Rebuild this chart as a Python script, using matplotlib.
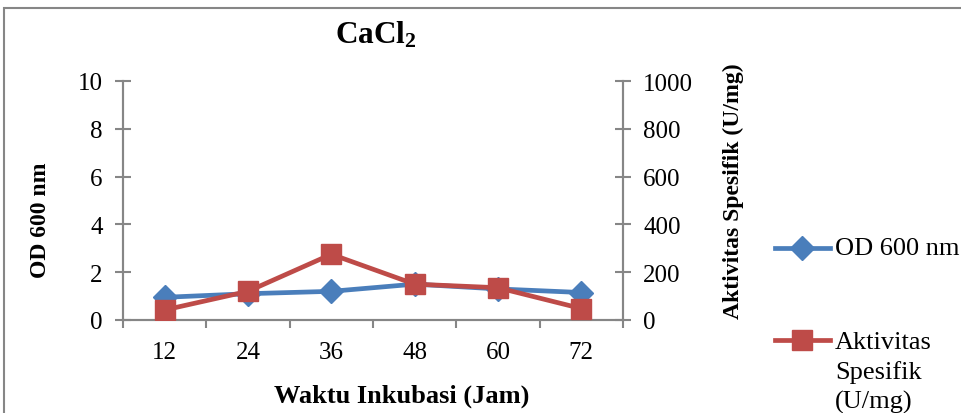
import matplotlib
matplotlib.use("Agg")
import matplotlib.pyplot as plt
from matplotlib.patches import Rectangle
from matplotlib.lines import Line2D
import numpy as np

plt.rcParams['font.family'] = ['Liberation Serif', 'DejaVu Serif']
plt.rcParams['mathtext.fontset'] = 'custom'
plt.rcParams['mathtext.rm'] = 'Liberation Serif'
plt.rcParams['mathtext.bf'] = 'Liberation Serif:bold'

hours = ["12", "24", "36", "48", "60", "72"]
od600 = [0.95, 1.1, 1.2, 1.5, 1.3, 1.15]
activity = [42, 120, 275, 150, 135, 48]
od_label = "OD 600 nm"
act_label = "Aktivitas\nSpesifik\n(U/mg)"

blue = "#4A7EBB"
red = "#BE4B48"
axis_grey = "#868686"
W, H = 961, 414

fig = plt.figure(figsize=(W / 100, H / 100), dpi=100)
ax = fig.add_axes([123 / W, 1 - 321 / H, 500 / W, 239 / H])
ax2 = ax.twinx()

x = np.arange(len(hours))
ax.plot(x, od600, color=blue, lw=3.4, marker="D", markersize=12,
        markeredgecolor=blue, zorder=3)
ax2.plot(x, activity, color=red, lw=3.4, marker="s", markersize=14,
         markeredgecolor=red, zorder=3)

ax.set_xlim(-0.5, len(hours) - 0.5)
ax.set_ylim(0, 10)
ax2.set_ylim(0, 1000)
ax.set_yticks(np.arange(0, 11, 2))
ax2.set_yticks(np.arange(0, 1001, 200))

# category labels at centers, ticks at category boundaries
ax.set_xticks(x)
ax.set_xticklabels(hours)
ax.set_xticks(np.arange(-0.5, len(hours)), minor=True)
ax.tick_params(axis="x", which="major", length=0, labelsize=18, pad=15)
ax.tick_params(axis="x", which="minor", length=6, width=1.5, color=axis_grey,
               direction="out")
ax.tick_params(axis="y", length=11, width=1.5, color=axis_grey,
               direction="inout", labelsize=18, pad=9)
ax2.tick_params(axis="y", length=11, width=1.5, color=axis_grey,
                direction="inout", labelsize=18, pad=9)

for a in (ax, ax2):
    a.spines["top"].set_visible(False)
    for side in ("left", "right", "bottom"):
        a.spines[side].set_color(axis_grey)
        a.spines[side].set_linewidth(1.5)

fig.text(40 / W, 1 - 220 / H, "OD 600 nm", fontsize=17, fontweight="bold",
         rotation=90, ha="center", va="center")
fig.text(733 / W, 1 - 191 / H, "Aktivitas Spesifik (U/mg)", fontsize=17,
         fontweight="bold", rotation=90, ha="center", va="center")
fig.text(402 / W, 1 - 396 / H, "Waktu Inkubasi (Jam)", fontsize=19,
         fontweight="bold", ha="center", va="center")
fig.text(376 / W, 1 - 43 / H, r"$\mathbf{CaCl_2}$", fontsize=22.5,
         ha="center", va="baseline")

# legend entries
for y_px, col, mk, ms in ((249, blue, "D", 12), (341, red, "s", 14)):
    fig.add_artist(Line2D([775 / W, 830 / W], [1 - y_px / H] * 2,
                          transform=fig.transFigure, color=col, lw=3.4))
    fig.add_artist(Line2D([802 / W], [1 - y_px / H], transform=fig.transFigure,
                          color=col, marker=mk, markersize=ms,
                          markeredgecolor=col))
fig.text(835 / W, 1 - 249 / H, od_label, fontsize=19, ha="left", va="center")
fig.text(835 / W, 1 - 332 / H, act_label, fontsize=19, ha="left", va="top",
         linespacing=1.4)

fig.add_artist(Rectangle((4 / W, -0.1), 1.2, 1.1 - 9 / H,
                         transform=fig.transFigure, fill=False,
                         edgecolor=axis_grey, lw=1.5))

fig.savefig("out.png", dpi=100)
